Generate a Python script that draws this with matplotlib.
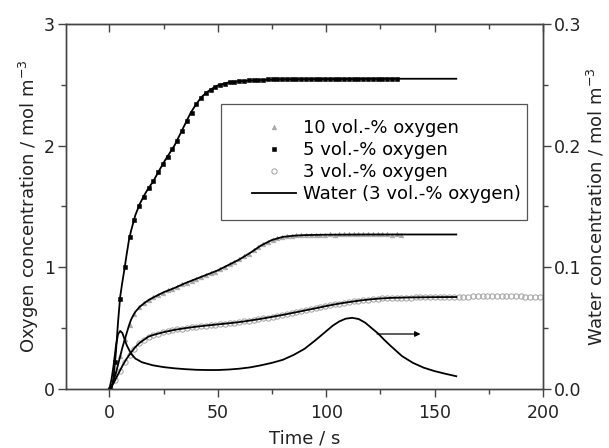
import numpy as np
import matplotlib
matplotlib.use("Agg")
import matplotlib.pyplot as plt
from matplotlib.ticker import MultipleLocator
from matplotlib.patches import Rectangle

plt.rcParams['font.family'] = ['DejaVu Sans Condensed', 'DejaVu Sans']
plt.rcParams['mathtext.default'] = 'regular'

# ---- data: measured markers (sampling interval 2.2 s, starting at 0.5 s) ----
dt = 2.2
t0 = 0.5
o2_5 = [0.0, 0.22, 0.74, 1.00, 1.25, 1.39, 1.50, 1.58, 1.65, 1.71, 1.78, 1.85, 1.91, 1.97,
        2.04, 2.12, 2.20, 2.27, 2.34, 2.39, 2.43, 2.46, 2.485, 2.50, 2.51, 2.52, 2.525, 2.53,
        2.535, 2.538, 2.54, 2.542, 2.543, 2.545, 2.544, 2.546, 2.545, 2.547, 2.546, 2.548,
        2.547, 2.548, 2.549, 2.548, 2.547, 2.549, 2.55, 2.549, 2.548, 2.55, 2.549, 2.551,
        2.55, 2.549, 2.55, 2.551, 2.55, 2.549, 2.55, 2.551, 2.55]
o2_10 = [0.0, 0.12, 0.27, 0.41, 0.53, 0.62, 0.67, 0.705, 0.73, 0.755, 0.775, 0.79, 0.81,
         0.825, 0.84, 0.86, 0.875, 0.89, 0.905, 0.92, 0.935, 0.95, 0.965, 0.985, 1.005,
         1.025, 1.045, 1.065, 1.09, 1.11, 1.14, 1.165, 1.19, 1.21, 1.225, 1.24, 1.25, 1.255,
         1.26, 1.262, 1.265, 1.266, 1.267, 1.268, 1.267, 1.269, 1.27, 1.269, 1.27, 1.271,
         1.27, 1.272, 1.271, 1.27, 1.272, 1.271, 1.27, 1.271, 1.27, 1.269, 1.27, 1.268]
o2_3 = [0.0, 0.07, 0.15, 0.22, 0.28, 0.33, 0.375, 0.405, 0.43, 0.445, 0.455, 0.465, 0.475,
        0.483, 0.49, 0.497, 0.502, 0.507, 0.512, 0.517, 0.521, 0.525, 0.529, 0.533, 0.537,
        0.541, 0.545, 0.55, 0.555, 0.561, 0.567, 0.573, 0.58, 0.587, 0.594, 0.601, 0.608,
        0.616, 0.624, 0.632, 0.64, 0.648, 0.656, 0.664, 0.672, 0.68, 0.688, 0.695, 0.702,
        0.708, 0.714, 0.72, 0.726, 0.731, 0.735, 0.739, 0.742, 0.745, 0.747, 0.749, 0.75,
        0.751, 0.752, 0.752, 0.753, 0.753, 0.754, 0.753, 0.754, 0.755, 0.754, 0.755, 0.756,
        0.757, 0.758, 0.76, 0.761, 0.762, 0.764, 0.765, 0.766, 0.766, 0.767, 0.766, 0.765,
        0.764, 0.762, 0.76, 0.758, 0.756, 0.755]

# ---- data: model lines ----
t_l5 = [0, 1, 2, 3, 4, 5, 6, 7, 8, 9, 10, 12, 14, 16, 18, 20, 22.5, 25, 27.5, 30, 32.5, 35,
        37.5, 40, 42.5, 45, 47.5, 50, 55, 60, 70, 80, 100, 130, 160]
l5 = [0, 0.0, 0.1, 0.3, 0.55, 0.76, 0.88, 0.99, 1.11, 1.22, 1.30, 1.43, 1.52, 1.59, 1.65,
      1.70, 1.78, 1.86, 1.93, 2.00, 2.09, 2.18, 2.27, 2.34, 2.40, 2.44, 2.47, 2.495, 2.52,
      2.53, 2.54, 2.545, 2.548, 2.55, 2.55]
t_l10 = [0, 1, 2, 3, 4, 5, 6, 7, 8, 9, 10, 11, 12, 14, 16, 18, 20, 25, 30, 35, 40, 45, 50,
         55, 60, 65, 70, 75, 80, 85, 90, 100, 120, 160]
l10 = [0, 0.02, 0.07, 0.13, 0.2, 0.27, 0.34, 0.40, 0.46, 0.52, 0.57, 0.605, 0.635, 0.675,
       0.705, 0.73, 0.75, 0.795, 0.83, 0.87, 0.905, 0.94, 0.975, 1.02, 1.065, 1.12, 1.18,
       1.225, 1.25, 1.26, 1.265, 1.268, 1.27, 1.27]
t_l3 = [0, 1, 2, 4, 6, 8, 10, 12, 14, 16, 18, 20, 25, 30, 35, 40, 45, 50, 55, 60, 65, 70,
        75, 80, 85, 90, 95, 100, 105, 110, 115, 120, 125, 130, 140, 150, 160]
l3 = [0, 0.02, 0.05, 0.12, 0.19, 0.25, 0.30, 0.345, 0.38, 0.405, 0.43, 0.443, 0.467, 0.486,
      0.5, 0.512, 0.522, 0.531, 0.54, 0.55, 0.563, 0.577, 0.593, 0.609, 0.627, 0.645, 0.663,
      0.682, 0.699, 0.713, 0.726, 0.736, 0.744, 0.749, 0.753, 0.755, 0.756]
t_w = [0, 1, 2, 3, 4, 5, 6, 7, 8, 10, 12, 15, 20, 25, 30, 35, 40, 45, 50, 55, 60, 65, 70,
       75, 80, 85, 90, 95, 100, 103, 106, 109, 112, 115, 118, 121, 124, 127, 130, 135, 140,
       145, 150, 155, 160]
water = [0, 0.008, 0.02, 0.035, 0.045, 0.0477, 0.046, 0.041, 0.036, 0.029, 0.025, 0.022,
         0.0195, 0.018, 0.017, 0.0163, 0.0158, 0.0156, 0.0156, 0.016, 0.0167, 0.0178,
         0.0195, 0.0215, 0.024, 0.028, 0.033, 0.040, 0.0475, 0.052, 0.0555, 0.0578, 0.0585,
         0.0575, 0.0545, 0.050, 0.0455, 0.040, 0.035, 0.027, 0.0215, 0.0175, 0.0147,
         0.0125, 0.0105]

labels = ['10 vol.-% oxygen', '5 vol.-% oxygen', '3 vol.-% oxygen', 'Water (3 vol.-% oxygen)']

def times(n):
    return t0 + dt * np.arange(n)

spine_c = '#444444'
W, H = 609, 448
L, R, T, B = 66, 543, 24, 389
fig = plt.figure(figsize=(W/100, H/100), dpi=100)
ax = fig.add_axes([L/W, 1-B/H, (R-L)/W, (B-T)/H])
ax2 = ax.twinx()

def ax_xy(px, py):
    return (px - L) / (R - L), (B - py) / (B - T)

h10, = ax.plot(times(len(o2_10)), o2_10, ls='none', marker='^', ms=3.4, mfc='#a8a8a8',
               mec='#a8a8a8', mew=0.4, zorder=2)
h5, = ax.plot(times(len(o2_5)), o2_5, ls='none', marker='s', ms=3.0, mfc='black',
              mec='black', mew=0.4, zorder=2)
h3, = ax.plot(times(len(o2_3)), o2_3, ls='none', marker='o', ms=3.8, mfc='none',
              mec='#a0a0a0', mew=0.7, zorder=2)
ax.plot(t_l5, l5, color='black', lw=1.3, zorder=3)
ax.plot(t_l10, l10, color='black', lw=1.3, zorder=3)
ax.plot(t_l3, l3, color='black', lw=1.3, zorder=3)
hw, = ax2.plot(t_w, water, color='black', lw=1.3)
ax2.annotate('', xy=(143.5, 0.0452), xytext=(123.5, 0.0452),
             arrowprops=dict(arrowstyle='-|>', color='black', lw=0.9,
                             mutation_scale=8, shrinkA=0, shrinkB=0))

ax.set_xlim(-20, 200)
ax.set_ylim(0, 3)
ax2.set_ylim(0, 0.3)

ax.xaxis.set_major_locator(MultipleLocator(50))
ax.xaxis.set_minor_locator(MultipleLocator(25))
ax.yaxis.set_major_locator(MultipleLocator(1))
ax.yaxis.set_minor_locator(MultipleLocator(0.5))
ax2.yaxis.set_major_locator(MultipleLocator(0.1))
ax2.yaxis.set_minor_locator(MultipleLocator(0.05))
ax2.yaxis.set_major_formatter(plt.FormatStrFormatter('%.1f'))

fs = 13
tfs = 12.5
for a in (ax, ax2):
    for s in a.spines.values():
        s.set_color(spine_c)
        s.set_linewidth(1.0)
ax.tick_params(which='major', direction='out', length=6, width=1, color=spine_c,
               labelsize=tfs, pad=2, labelcolor='#222222')
ax.tick_params(axis='x', which='major', pad=4.5)
ax.tick_params(which='minor', direction='out', length=3.5, width=1, color=spine_c)
ax2.tick_params(which='major', direction='out', length=6, width=1, color=spine_c,
                labelsize=tfs, pad=2, labelcolor='#222222')
ax2.tick_params(which='minor', direction='out', length=3.5, width=1, color=spine_c)

sec = ax.secondary_xaxis('top')
sec.xaxis.set_major_locator(MultipleLocator(50))
sec.xaxis.set_minor_locator(MultipleLocator(25))
sec.tick_params(which='major', direction='in', length=6, width=1, color=spine_c,
                labeltop=False)
sec.tick_params(which='minor', direction='in', length=3.5, width=1, color=spine_c)
sec.spines['top'].set_color(spine_c)

ax.set_xlabel('Time / s', fontsize=fs, color='#222222', labelpad=6)
ax.set_ylabel('Oxygen concentration / mol m$^{-3}$', fontsize=fs, color='#222222', labelpad=2)
ax2.set_ylabel('Water concentration / mol m$^{-3}$', fontsize=fs, color='#222222', labelpad=3)

# legend frame drawn as a rectangle, entries placed inside it
x0, y0 = ax_xy(221, 220)
x1, y1 = ax_xy(527, 104)
ax.add_patch(Rectangle((x0, y0), x1 - x0, y1 - y0, transform=ax.transAxes,
                       facecolor='white', edgecolor='#555555', lw=0.9, zorder=4))
lfs = 13
ax_, ay_ = ax_xy(252, 119.5)
leg = ax.legend([h10, h5, h3, hw], labels, loc='upper left',
                bbox_to_anchor=(ax_, ay_), fontsize=lfs, frameon=False,
                handlelength=2.45, handletextpad=0.4, borderpad=0, labelspacing=0.22,
                borderaxespad=0)
leg.set_zorder(5)

fig.savefig('out.png', dpi=100)
